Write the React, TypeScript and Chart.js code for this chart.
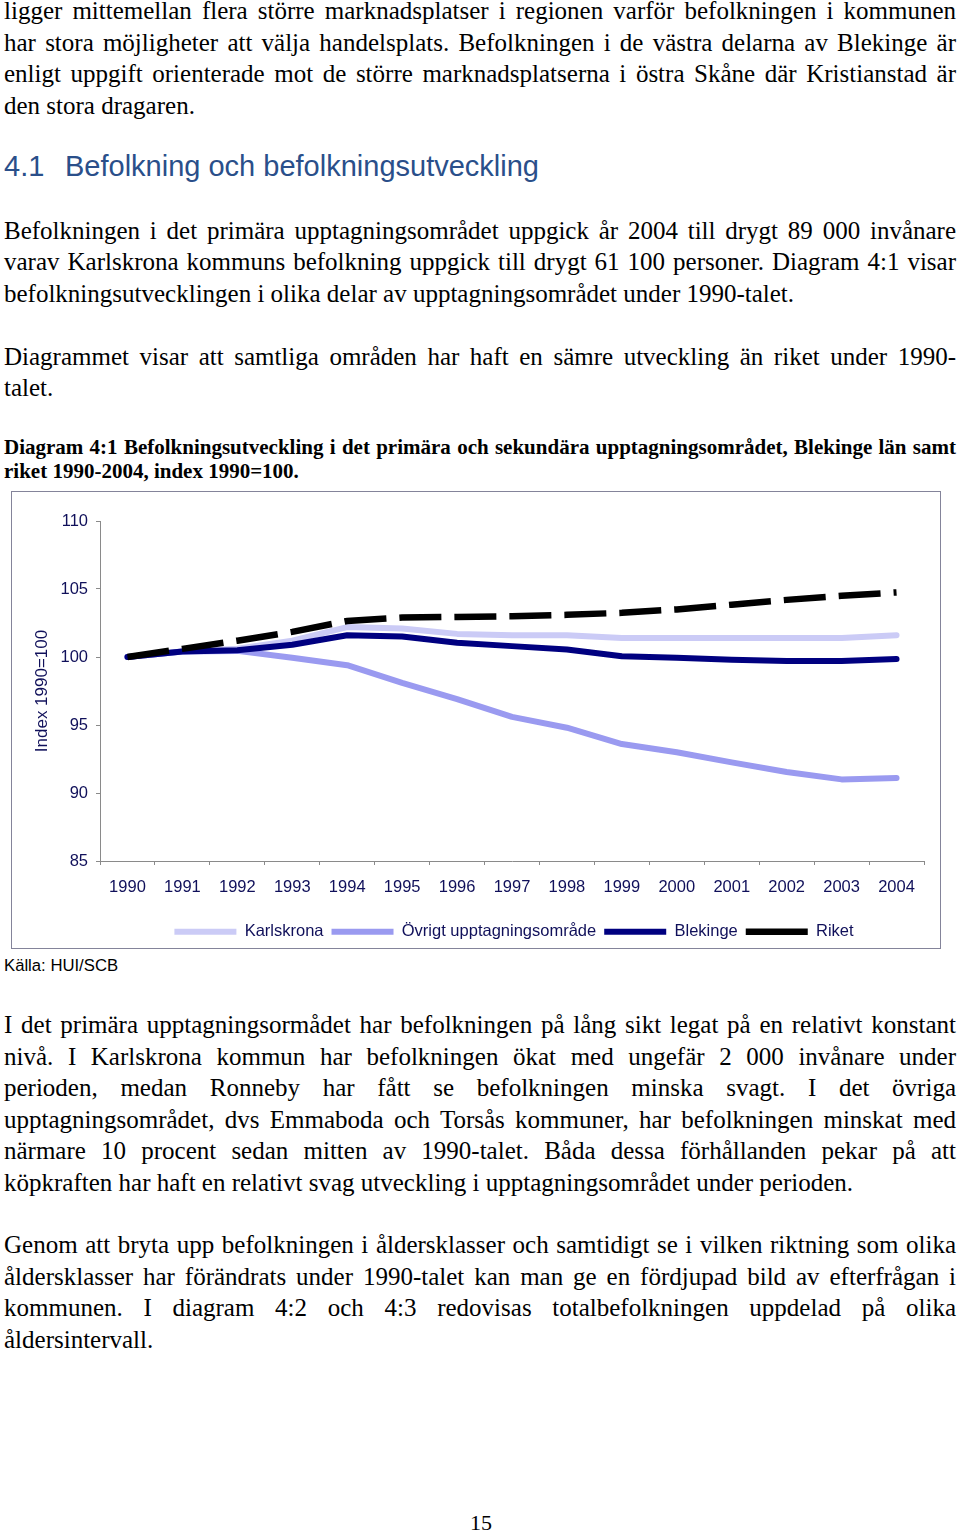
import React, { useEffect, useRef } from "react";
import { Chart, registerables } from "chart.js";

Chart.register(...registerables);

// ---------- chart data ----------
const years = ["1990", "1991", "1992", "1993", "1994", "1995", "1996", "1997", "1998", "1999", "2000", "2001", "2002", "2003", "2004"];
const karlskrona = [100, 100.4, 100.6, 101.2, 102.2, 102.1, 101.7, 101.6, 101.6, 101.4, 101.4, 101.4, 101.4, 101.4, 101.6];
const ovrigt = [100, 100.4, 100.45, 99.95, 99.4, 98.1, 96.9, 95.6, 94.8, 93.6, 93.0, 92.25, 91.55, 91.0, 91.1];
const blekinge = [100, 100.4, 100.5, 100.9, 101.6, 101.5, 101.05, 100.8, 100.55, 100.05, 99.95, 99.8, 99.7, 99.7, 99.85];
const riket = [100, 100.6, 101.2, 101.85, 102.65, 102.9, 102.95, 103.0, 103.1, 103.25, 103.5, 103.85, 104.2, 104.5, 104.75];
const seriesNames = ["Karlskrona", "Övrigt upptagningsområde", "Blekinge", "Riket"];
const yMin = 85;
const yMax = 110;
const yStep = 5;
const yTitle = "Index 1990=100";

// ---------- page text ----------
const para1 = [
  "ligger mittemellan flera större marknadsplatser i regionen varför befolkningen i kommunen",
  "har stora möjligheter att välja handelsplats. Befolkningen i de västra delarna av Blekinge är",
  "enligt uppgift orienterade mot de större marknadsplatserna i östra Skåne där Kristianstad är",
  "den stora dragaren.",
];
const para2 = [
  "Befolkningen i det primära upptagningsområdet uppgick år 2004 till drygt 89 000 invånare",
  "varav Karlskrona kommuns befolkning uppgick till drygt 61 100 personer. Diagram 4:1 visar",
  "befolkningsutvecklingen i olika delar av upptagningsområdet under 1990-talet.",
];
const para3 = [
  "Diagrammet visar att samtliga områden har haft en sämre utveckling än riket under 1990-",
  "talet.",
];
const caption = [
  "Diagram 4:1 Befolkningsutveckling i det primära och sekundära upptagningsområdet, Blekinge län samt",
  "riket 1990-2004, index 1990=100.",
];
const para4 = [
  "I det primära upptagningsormådet har befolkningen på lång sikt legat på en relativt konstant",
  "nivå. I Karlskrona kommun har befolkningen ökat med ungefär 2 000 invånare under",
  "perioden, medan Ronneby har fått se befolkningen minska svagt. I det övriga",
  "upptagningsområdet, dvs Emmaboda och Torsås kommuner, har befolkningen minskat med",
  "närmare 10 procent sedan mitten av 1990-talet. Båda dessa förhållanden pekar på att",
  "köpkraften har haft en relativt svag utveckling i upptagningsområdet under perioden.",
];
const para5 = [
  "Genom att bryta upp befolkningen i åldersklasser och samtidigt se i vilken riktning som olika",
  "åldersklasser har förändrats under 1990-talet kan man ge en fördjupad bild av efterfrågan i",
  "kommunen. I diagram 4:2 och 4:3 redovisas totalbefolkningen uppdelad på olika",
  "åldersintervall.",
];

const SERIF = "'Liberation Serif', 'Times New Roman', serif";
const SANS = "'Liberation Sans', Arial, sans-serif";
const NAVY_TEXT = "#10105a";
const AXIS = "#8a8a8a";

function Para({ lines, top, size = 25, lh = 31.6, bold = false }: { lines: string[]; top: number; size?: number; lh?: number; bold?: boolean }) {
  return (
    <div style={{ position: "absolute", left: 4, top, width: 952, fontFamily: SERIF, fontSize: size, lineHeight: lh + "px", fontWeight: bold ? 700 : 400, color: "#000" }}>
      {lines.map((t, i) => {
        const last = i === lines.length - 1;
        return (
          <div key={i} style={{ whiteSpace: "nowrap", textAlign: last ? "left" : "justify", textAlignLast: last ? "left" : "justify" } as React.CSSProperties}>
            {t}
          </div>
        );
      })}
    </div>
  );
}

function LineChart() {
  const ref = useRef<HTMLCanvasElement | null>(null);
  useEffect(() => {
    if (!ref.current) return;
    const legendShift = {
      id: "legendShift",
      afterLayout(chart: any) {
        const l = chart.legend;
        if (l) {
          l.left += 38;
          l.right += 38;
        }
      },
    };
    const chart = new Chart(ref.current, {
      type: "line",
      data: {
        labels: years,
        datasets: [
          { label: seriesNames[0], data: karlskrona, borderColor: "#cbcbf6", backgroundColor: "#cbcbf6", borderWidth: 6, pointRadius: 0, tension: 0, borderCapStyle: "round", borderJoinStyle: "round", order: 4 },
          { label: seriesNames[1], data: ovrigt, borderColor: "#9a9af0", backgroundColor: "#9a9af0", borderWidth: 6, pointRadius: 0, tension: 0, borderCapStyle: "round", borderJoinStyle: "round", order: 3 },
          { label: seriesNames[2], data: blekinge, borderColor: "#000080", backgroundColor: "#000080", borderWidth: 6, pointRadius: 0, tension: 0, borderCapStyle: "round", borderJoinStyle: "round", order: 2 },
          { label: seriesNames[3], data: riket, borderColor: "#000000", backgroundColor: "#000000", borderWidth: 6.5, borderDash: [42, 13], pointRadius: 0, tension: 0, borderCapStyle: "butt", order: 1 },
        ],
      },
      options: {
        responsive: false,
        animation: false,
        devicePixelRatio: 1,
        layout: { padding: { left: 16, right: 16, top: 29, bottom: -2 } },
        plugins: {
          legend: {
            position: "bottom",
            labels: {
              usePointStyle: true,
              pointStyle: "line",
              pointStyleWidth: 62,
              boxHeight: 6,
              padding: 8,
              color: NAVY_TEXT,
              font: { family: SANS, size: 16.5 },
              sort: (a: any, b: any) => a.datasetIndex - b.datasetIndex,
            },
          },
          tooltip: { enabled: false },
        },
        scales: {
          x: {
            offset: true,
            grid: { offset: true, drawOnChartArea: false, drawTicks: true, tickLength: 4, color: AXIS },
            border: { display: true, color: AXIS, width: 1 },
            ticks: { color: NAVY_TEXT, font: { family: SANS, size: 16.5 }, padding: 13, maxRotation: 0, autoSkip: false },
            afterFit: (s: any) => {
              s.height = 54.5;
            },
          },
          y: {
            min: yMin,
            max: yMax,
            grid: { drawOnChartArea: false, drawTicks: true, tickLength: 4, color: AXIS },
            border: { display: true, color: AXIS, width: 1 },
            ticks: { stepSize: yStep, color: NAVY_TEXT, font: { family: SANS, size: 16.5 }, padding: 8 },
            title: { display: true, text: yTitle, color: NAVY_TEXT, font: { family: SANS, size: 17 }, padding: { top: 4, bottom: 4 } },
            afterFit: (s: any) => {
              s.width = 72;
            },
          },
        },
      } as any,
      plugins: [legendShift],
    });
    return () => chart.destroy();
  }, []);
  return <canvas ref={ref} width={928} height={456} style={{ display: "block", width: 928, height: 456 }} />;
}

export default function App() {
  return (
    <div style={{ position: "fixed", left: 0, top: 0, width: 960, height: 1532, overflow: "hidden", background: "#fff" }}>
      <Para lines={para1} top={-4.8} />
      <div style={{ position: "absolute", left: 4, top: 151.9, fontFamily: SANS, fontSize: 29, lineHeight: "29px", color: "#2a4f8a", whiteSpace: "nowrap" }}>
        <span style={{ display: "inline-block", width: 61 }}>4.1</span>
        <span>Befolkning och befolkningsutveckling</span>
      </div>
      <Para lines={para2} top={214.5} />
      <Para lines={para3} top={340.5} />
      <Para lines={caption} top={434.5} size={21} lh={24.3} bold />
      <div style={{ position: "absolute", left: 11, top: 491, width: 930, height: 458, boxSizing: "border-box", border: "1px solid #84849a" }}>
        <LineChart />
      </div>
      <div style={{ position: "absolute", left: 4, top: 958.2, fontFamily: SANS, fontSize: 16.7, lineHeight: "16.7px", color: "#000" }}>Källa: HUI/SCB</div>
      <Para lines={para4} top={1009} />
      <Para lines={para5} top={1229} />
      <div style={{ position: "absolute", left: 470, top: 1512, fontFamily: SERIF, fontSize: 22, lineHeight: "22px", color: "#000" }}>15</div>
    </div>
  );
}
